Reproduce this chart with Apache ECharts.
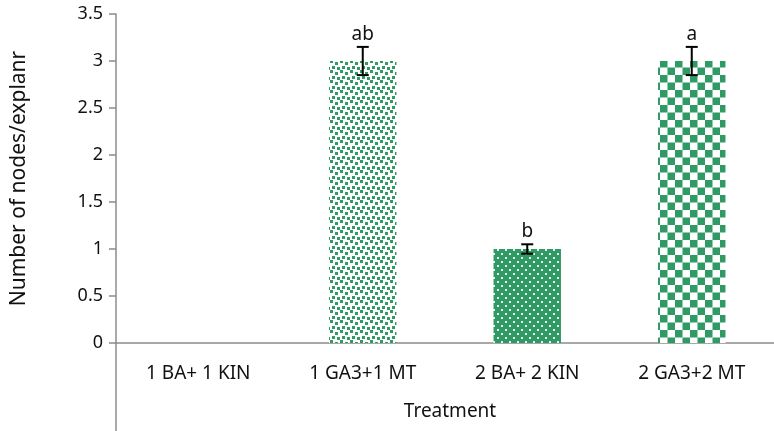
<!DOCTYPE html>
<html>
<head>
<meta charset="utf-8">
<script src="https://cdn.jsdelivr.net/npm/echarts@6/dist/echarts.min.js"></script>
<style>
  html, body { margin: 0; padding: 0; background: #fff; }
  #chart { width: 774px; height: 431px; }
</style>
</head>
<body>
<div id="chart"></div>
<script>
// data
var categories = ['1 BA+ 1 KIN', '1 GA3+1 MT', '2 BA+ 2 KIN', '2 GA3+2 MT'];
var means = [0, 3, 1, 3];
var errors = [0, 0.15, 0.05, 0.15];
var letters = ['', 'ab', 'b', 'a'];

var GREEN = '#2f9a64';
var AXIS = '#8c8c8c';
var FONT = '"Noto Sans", sans-serif';

// fill patterns for the three bars
function makeTile(size, draw) {
  var c = document.createElement('canvas');
  c.width = size; c.height = size;
  var ctx = c.getContext('2d');
  draw(ctx, size);
  return c;
}
var confetti = makeTile(10, function (ctx) {
  ctx.fillStyle = '#fff'; ctx.fillRect(0, 0, 10, 10);
  ctx.fillStyle = GREEN;
  ctx.fillRect(0, 0, 3, 3);
  ctx.fillRect(5, 2, 3, 3);
  ctx.fillRect(2, 6, 3, 3);
  ctx.fillRect(7, 7, 3, 3);
});
var dots = makeTile(8, function (ctx) {
  ctx.fillStyle = GREEN; ctx.fillRect(0, 0, 8, 8);
  ctx.fillStyle = '#e8f4ee';
  ctx.fillRect(1, 1, 2, 2);
  ctx.fillRect(5, 5, 2, 2);
});
var checker = makeTile(15, function (ctx) {
  ctx.fillStyle = '#fff'; ctx.fillRect(0, 0, 15, 15);
  ctx.fillStyle = GREEN;
  ctx.fillRect(0, 0, 7.5, 7.5);
  ctx.fillRect(7.5, 7.5, 7.5, 7.5);
});
var fills = [GREEN, confetti, dots, checker];

var barData = means.map(function (v, i) {
  var f = fills[i];
  return {
    value: v,
    itemStyle: { color: typeof f === 'string' ? f : { image: f, repeat: 'repeat' } }
  };
});

var errData = means.map(function (v, i) { return [i, v, errors[i], letters[i]]; });

var myChart = echarts.init(document.getElementById('chart'));
var option = {
  animation: false,
  textStyle: { fontFamily: FONT },
  grid: [
    { left: 116, right: -10, top: 14, bottom: 88 },
    { left: 116, right: -10, top: 343, bottom: 0 }
  ],
  xAxis: [
    {
      type: 'category', data: categories, gridIndex: 0,
      axisLine: { lineStyle: { color: AXIS, width: 1.5 } },
      axisTick: { show: false },
      axisLabel: { show: false }
    },
    {
      type: 'category', data: categories, gridIndex: 1, position: 'top',
      axisLine: { show: false },
      axisTick: { show: true, inside: true, length: 44, lineStyle: { color: AXIS, width: 1.5 } },
      axisLabel: { inside: true, margin: 21, fontSize: 19, color: '#111', fontFamily: FONT }
    }
  ],
  yAxis: [
    {
      type: 'value', gridIndex: 0, min: 0, max: 3.5, interval: 0.5,
      name: 'Number of nodes/explanr', nameLocation: 'middle', nameGap: 86,
      nameTextStyle: { fontSize: 21, color: '#111', fontFamily: FONT },
      axisLine: { show: true, lineStyle: { color: AXIS, width: 1.5 } },
      axisTick: { show: true, length: 7, lineStyle: { color: AXIS, width: 1.5 } },
      axisLabel: { fontSize: 18, color: '#111', margin: 13, fontFamily: FONT },
      splitLine: { show: false }
    },
    {
      type: 'value', gridIndex: 1,
      axisLine: { show: true, lineStyle: { color: AXIS, width: 1.5 } },
      axisTick: { show: false }, axisLabel: { show: false }, splitLine: { show: false }
    }
  ],
  graphic: [{
    type: 'text', x: 450, y: 412,
    style: { text: 'Treatment', fill: '#111', font: '19px "Noto Sans", sans-serif', textAlign: 'center', textVerticalAlign: 'middle' }
  }],
  series: [
    {
      type: 'bar', xAxisIndex: 0, yAxisIndex: 0,
      barWidth: '41%',
      data: barData
    },
    {
      type: 'custom', xAxisIndex: 0, yAxisIndex: 0,
      data: errData,
      z: 10,
      renderItem: function (params, api) {
        var i = api.value(0), m = api.value(1), e = api.value(2);
        var lab = letters[i];
        var children = [];
        var top = api.coord([i, m + e]);
        if (e > 0) {
          var bot = api.coord([i, m - e]);
          var hw = 6;
          var st = { stroke: '#000', lineWidth: 2 };
          children.push(
            { type: 'line', shape: { x1: top[0], y1: top[1], x2: bot[0], y2: bot[1] }, style: st },
            { type: 'line', shape: { x1: top[0] - hw, y1: top[1], x2: top[0] + hw, y2: top[1] }, style: st },
            { type: 'line', shape: { x1: bot[0] - hw, y1: bot[1], x2: bot[0] + hw, y2: bot[1] }, style: st }
          );
        }
        if (lab) {
          children.push({
            type: 'text', x: top[0], y: top[1] - 3,
            style: { text: lab, fill: '#111', font: '19px "Noto Sans", sans-serif', textAlign: 'center', textVerticalAlign: 'bottom' }
          });
        }
        return { type: 'group', children: children };
      }
    }
  ]
};
option && myChart.setOption(option);
</script>
</body>
</html>
